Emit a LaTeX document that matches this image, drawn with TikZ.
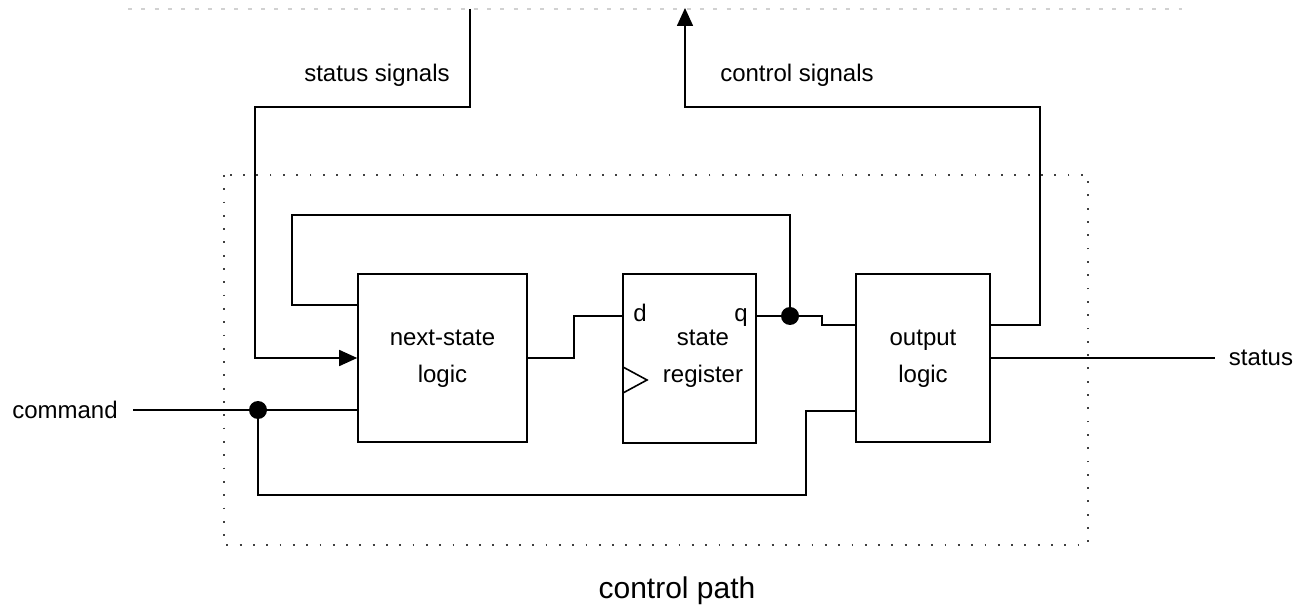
\documentclass[tikz,border=0pt]{standalone}
\usepackage{fontspec}
\setmainfont{Liberation Sans}
\usetikzlibrary{arrows.meta}
\begin{document}
\begin{tikzpicture}[x=1pt,y=-1pt,
  wire/.style={line width=1.6pt,black},
  blockbox/.style={draw,line width=1.6pt,inner sep=0pt,align=center,
    font=\fontsize{24}{37}\selectfont},
  lbl/.style={inner sep=0pt,font=\fontsize{24}{29}\selectfont},
  junction/.style={circle,fill=black,inner sep=0pt,minimum size=18pt},
  arr/.style={-{Triangle[length=18pt,width=16pt]}},
  dotbox/.style={line width=1.8pt,black!75,dash pattern=on 1.8pt off 11.5pt},
  faint/.style={line width=1.6pt,black!18,dash pattern=on 4pt off 9.3pt}
]
\useasboundingbox (0,0) rectangle (1296,609);
\fill[white] (0,0) rectangle (1296,609);

% outer faint edge and control-path box
\draw[faint] (128,9) -- (1182,9);
\draw[dotbox] (224,175) rectangle (1088,545);

% blocks
\node[blockbox,minimum width=169pt,minimum height=168pt] (ns) at (442.5,358) {};
\node[font=\fontsize{24}{37}\selectfont,align=center,inner sep=0pt] (nstext) at (442.5,359) {next-state\\logic};
\node[blockbox,minimum width=133pt,minimum height=169pt] (reg) at (689.5,358.5) {};
\node[font=\fontsize{24}{37}\selectfont,align=center,inner sep=0pt] (regtext) at (703,359) {state\\register};
\node[blockbox,minimum width=134pt,minimum height=168pt] (out) at (923,358) {};
\node[font=\fontsize{24}{37}\selectfont,align=center,inner sep=0pt] (outtext) at (923,359) {output\\logic};

\node[lbl] (dl) at (640,313) {d};
\node[lbl] (ql) at (741,318) {q};
\draw[line width=1.6pt] (623,367) -- (647,380) -- (623,393);

% labels
\node[lbl] (ss) at (377,75) {status signals};
\node[lbl] (cs) at (797,75) {control signals};
\node[lbl] (cmd) at (65,410) {command};
\node[lbl] (st) at (1261,358) {status};
\node[inner sep=0pt,font=\fontsize{30}{36}\selectfont] (cp) at (677,591) {control path};

% coordinates
\coordinate (sstop) at (470,9);
\coordinate (cstop) at (685,8);
\coordinate (cmdend) at (133,410);
\coordinate (stend) at (1215,358);
\coordinate (nsfb) at (358,305);
\coordinate (nscmd) at (358,410);
\coordinate (regd) at (623,316);
\coordinate (regq) at (756,316);
\coordinate (outq) at (856,325);
\coordinate (outcmd) at (856,411);
\coordinate (outctl) at (990,325);

\node[junction] (jq) at (790,316) {};
\node[junction] (jc) at (258,410) {};

% wires
\draw[wire,arr] (sstop) -- (470,107) -- (255,107) -- (255,358) -- (ns.west);
\draw[wire,arr] (outctl) -- (1040,325) -- (1040,107) -- (685,107) -- (cstop);
\draw[wire] (jq.center) -- (790,215) -- (292,215) -- (292,305) -- (nsfb);
\draw[wire] (ns.east) -- (574,358) -- (574,316) -- (regd);
\draw[wire] (regq) -- (jq.center) -- (822,316) -- (822,325) -- (outq);
\draw[wire] (out.east) -- (stend);
\draw[wire] (cmdend) -- (nscmd);
\draw[wire] (jc.center) -- (258,495) -- (806,495) -- (806,411) -- (outcmd);
\end{tikzpicture}
\end{document}
